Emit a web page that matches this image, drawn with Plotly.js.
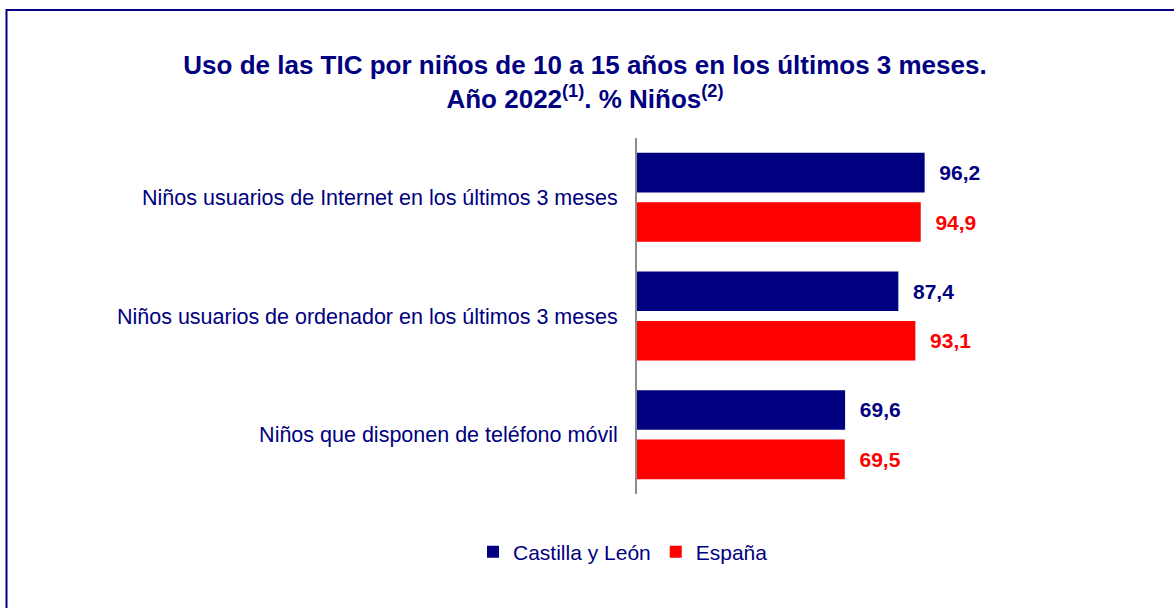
<!DOCTYPE html>
<html>
<head>
<meta charset="utf-8">
<script src="https://cdn.plot.ly/plotly-3.0.1.min.js"></script>
<style>html,body{margin:0;padding:0;background:#fff;}#chart{width:1174px;height:608px;}</style>
</head>
<body>
<div id="chart"></div>
<script>
const categories = [
  "Niños usuarios de Internet en los últimos 3 meses",
  "Niños usuarios de ordenador en los últimos 3 meses",
  "Niños que disponen de teléfono móvil"
];
const seriesNames = ["Castilla y León", "España"];
const castillaLeon = [96.2, 87.4, 69.6];
const espana = [94.9, 93.1, 69.5];

const FONT = "Liberation Sans, Arial, sans-serif";
const NAVY = "#000080";
const RED = "#ff0000";

const W = 1174, H = 608;
const ML = 637, MR = 238, MT = 138, MB = 114;
const PW = W - ML - MR, PH = H - MT - MB;
const px2x = p => (p - ML) / PW;
const py2y = p => (H - MB - p) / PH;

const traces = [
  {
    type: "bar", orientation: "h", name: seriesNames[0],
    y: categories, x: castillaLeon,
    marker: {color: NAVY},
    texttemplate: "\u00a0\u00a0%{x:.1f}", textposition: "outside",
    textfont: {family: FONT, size: 21, color: NAVY, weight: "bold"},
    cliponaxis: false, hoverinfo: "x+y"
  },
  {
    type: "bar", orientation: "h", name: seriesNames[1],
    y: categories, x: espana,
    marker: {color: RED},
    texttemplate: "\u00a0\u00a0%{x:.1f}", textposition: "outside",
    textfont: {family: FONT, size: 21, color: RED, weight: "bold"},
    cliponaxis: false, hoverinfo: "x+y"
  }
];

const layout = {
  width: W, height: H,
  margin: {l: ML, r: MR, t: MT, b: MB, pad: 0},
  paper_bgcolor: "#ffffff", plot_bgcolor: "#ffffff",
  separators: ",.",
  font: {family: FONT, color: NAVY},
  title: {
    text: "<b>Uso de las TIC por niños de 10 a 15 años en los últimos 3 meses.<br>Año 2022<sup>(1)</sup>. % Niños<sup>(2)</sup></b>",
    font: {family: FONT, size: 26, color: NAVY},
    x: 585 / W, xref: "container", xanchor: "center",
    y: 1 - 74 / H, yref: "container", yanchor: "top"
  },
  barmode: "group", bargap: 0.166, bargroupgap: 0.2,
  xaxis: {
    range: [0, 100], showgrid: false, zeroline: false, showline: false,
    showticklabels: false, ticks: "", fixedrange: true
  },
  yaxis: {
    type: "category", categoryorder: "array", categoryarray: categories,
    autorange: "reversed", showgrid: false, zeroline: false,
    showline: true, linecolor: "#8c8c8c", linewidth: 2,
    ticks: "", ticklabelstandoff: 13,
    tickfont: {family: FONT, size: 21.5, color: NAVY}, fixedrange: true
  },
  showlegend: true,
  legend: {
    orientation: "h", xref: "container", yref: "container",
    x: 623 / W, xanchor: "center", y: 1 - 552 / H, yanchor: "middle",
    font: {family: FONT, size: 21, color: NAVY},
    itemclick: false, itemdoubleclick: false, traceorder: "normal"
  },
  shapes: [{
    type: "rect", xref: "paper", yref: "paper",
    x0: px2x(6.5), x1: px2x(1185), y0: py2y(10), y1: py2y(620),
    line: {color: NAVY, width: 2}, fillcolor: "rgba(0,0,0,0)", layer: "above"
  }]
};

Plotly.newPlot("chart", traces, layout, {displayModeBar: false, staticPlot: true});
</script>
</body>
</html>
